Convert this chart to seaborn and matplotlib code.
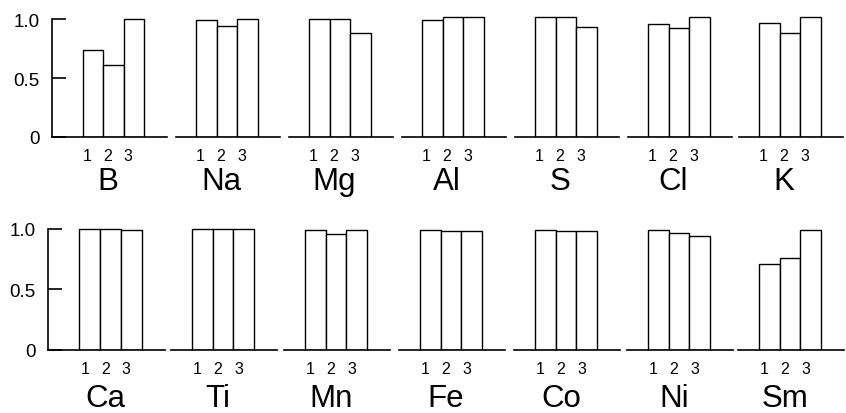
import matplotlib
matplotlib.use("Agg")
import matplotlib.pyplot as plt
import matplotlib.transforms as mtransforms
import seaborn as sns

# element names, one row of panels each
top_elements = ["B", "Na", "Mg", "Al", "S", "Cl", "K"]
bottom_elements = ["Ca", "Ti", "Mn", "Fe", "Co", "Ni", "Sm"]

# relative values of samples 1, 2, 3 for every element
top_values = [
    [0.74, 0.61, 1.00],  # B
    [0.99, 0.94, 1.00],  # Na
    [1.00, 1.00, 0.88],  # Mg
    [0.99, 1.02, 1.02],  # Al
    [1.02, 1.02, 0.93],  # S
    [0.96, 0.92, 1.02],  # Cl
    [0.97, 0.88, 1.02],  # K
]
bottom_values = [
    [1.00, 1.00, 0.99],  # Ca
    [1.00, 1.00, 1.00],  # Ti
    [0.99, 0.96, 0.99],  # Mn
    [0.99, 0.98, 0.98],  # Fe
    [0.99, 0.98, 0.98],  # Co
    [0.99, 0.97, 0.94],  # Ni
    [0.71, 0.76, 0.99],  # Sm
]
sample_labels = ["1", "2", "3"]
y_ticks = [0, 0.5, 1.0]
y_tick_labels = ["0", "0.5", "1.0"]

sns.set_style("ticks")
plt.rcParams["font.family"] = ["Liberation Sans", "DejaVu Sans"]
plt.rcParams["text.color"] = "black"
plt.rcParams["axes.labelcolor"] = "black"
plt.rcParams["xtick.color"] = "black"
plt.rcParams["ytick.color"] = "black"

W, H = 846, 414
fig = plt.figure(figsize=(W / 100, H / 100), dpi=100)

# layout in pixels: centre of the middle bar, baseline y, px per unit value
rows = [
    dict(names=top_elements, vals=top_values,
         centers=[113.5, 227, 340, 453, 566, 679, 790], base=138, scale=118,
         unit=20.5, labelpad=2, shift=-6),
    dict(names=bottom_elements, vals=bottom_values,
         centers=[110.5, 223, 336, 451, 566, 679, 790], base=350.5, scale=120.5,
         unit=20.8, labelpad=5, shift=-5),
]
ytop = 1.05

for row in rows:
    u = row["unit"]
    shift = mtransforms.ScaledTranslation(row["shift"] / 100, 0, fig.dpi_scale_trans)
    for c, (name, vals) in enumerate(zip(row["names"], row["vals"])):
        xl = -2.0 if c == 0 else -1.5
        xr = 3.6
        cx = row["centers"][c]
        left_px = cx + (xl - 1) * u
        width_px = (xr - xl) * u
        h_px = ytop * row["scale"]
        ax = fig.add_axes([left_px / W, (H - row["base"]) / H, width_px / W, h_px / H])
        sns.barplot(x=sample_labels, y=vals, ax=ax, width=1, color="white",
                    saturation=1, edgecolor="black", linewidth=1.0)
        ax.set_xlim(xl, xr)
        ax.set_ylim(0, ytop)
        for s in ["top", "right"]:
            ax.spines[s].set_visible(False)
        ax.spines["bottom"].set_linewidth(1.2)
        ax.spines["bottom"].set_color("black")
        ax.tick_params(axis="x", length=0, pad=8, labelsize=11.5)
        for lab in ax.get_xticklabels():
            lab.set_transform(lab.get_transform() + shift)
        ax.set_xlabel(name, fontsize=22.5, labelpad=row["labelpad"])
        ax.xaxis.label.set_x((cx + row["shift"] - left_px) / width_px)
        ax.set_ylabel("")
        if c == 0:
            ax.spines["left"].set_linewidth(1.2)
            ax.spines["left"].set_color("black")
            ax.spines["left"].set_bounds(0, 1.0)
            ax.set_yticks(y_ticks)
            ax.set_yticklabels(y_tick_labels)
            ax.tick_params(axis="y", direction="in", length=10, width=1.2,
                           pad=9, labelsize=13.5)
        else:
            ax.spines["left"].set_visible(False)
            ax.set_yticks([])
        ax.set_facecolor("none")

fig.savefig("out.png", dpi=100)
